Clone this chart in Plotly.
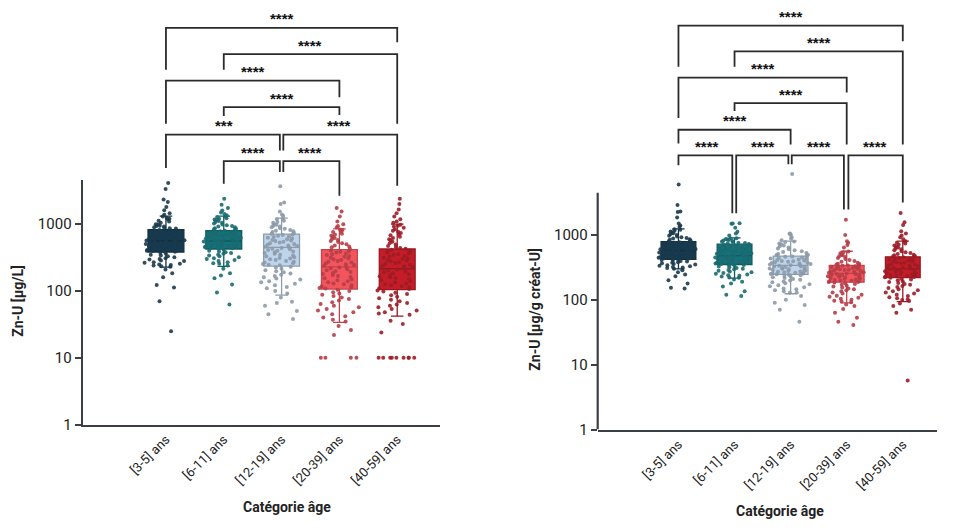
import plotly.graph_objects as go

categories = ["[3-5] ans", "[6-11] ans", "[12-19] ans", "[20-39] ans", "[40-59] ans"]

# ---------- Left panel: Zn-U [µg/L] ----------
L_q1 = [383, 425, 236, 107, 105]
L_med = [560, 560, 450, 229, 215]
L_q3 = [830, 800, 711, 415, 425]
L_lo = [228, 233, 87, 34, 42]
L_hi = [1320, 1320, 1230, 850, 1000]

L_pts_0 = [4130, 3360, 2340, 2150, 1800, 1620, 1450, 1380,
           1250, 1180, 1100, 1050, 990, 950, 920, 880, 860,
           820, 790, 760, 740, 710, 690, 670, 650, 630, 610, 600, 585, 570, 555, 540, 525,
           510, 495, 480, 465, 450, 435, 420, 405, 395, 385,
           370, 350, 330, 310, 295, 280, 265, 250, 240, 230,
           210, 185, 160, 123, 113, 70, 25,
           800, 775, 750, 725, 700, 680, 660, 640, 620, 595, 575, 565, 548, 532, 518, 503,
           488, 472, 458, 443, 428, 412, 400, 390, 1300, 1200, 1120, 1000, 940, 900, 870,
           360, 340, 320, 300, 285, 270, 255, 245, 235]
L_pts_1 = [2400, 1950, 1740, 1600, 1500, 1420, 1360,
           1280, 1200, 1150, 1080, 1020, 960, 920, 870, 840,
           795, 770, 745, 720, 700, 680, 660, 640, 620, 605, 590, 575, 560, 548, 535, 520,
           505, 490, 475, 462, 450, 440, 430,
           410, 390, 370, 350, 330, 310, 290, 270, 255, 240,
           215, 185, 170, 155, 125, 95, 63,
           785, 760, 735, 710, 690, 670, 650, 630, 612, 597, 582, 567, 553, 541, 528, 512,
           497, 482, 468, 456, 445, 435, 1300, 1230, 1170, 1110, 1050, 990, 940, 900, 855,
           820, 400, 380, 360, 340, 320, 300, 280, 260]
L_pts_2 = [3700, 2100, 2000, 1550, 1400, 1320,
           1200, 1120, 1050, 980, 920, 870, 820, 780, 740,
           700, 670, 640, 610, 580, 560, 530, 505, 480, 460, 440, 420, 400, 380, 360, 340,
           320, 305, 290, 275, 260, 248,
           225, 205, 190, 175, 160, 148, 135, 122, 110, 100, 92,
           80, 69, 66, 60, 50, 45, 38,
           690, 655, 625, 595, 570, 545, 518, 492, 470, 450, 430, 410, 390, 370, 350, 330,
           312, 298, 282, 268, 254, 242, 1180, 1080, 1000, 950, 900, 850, 800, 760, 720,
           230, 215, 198, 182, 168, 154, 140, 128, 115]
L_pts_3 = [1740, 1550, 1300, 1100, 1000, 940, 900,
           820, 760, 700, 650, 600, 560, 520, 480, 450,
           405, 385, 365, 345, 325, 305, 290, 275, 260, 245, 230, 218, 205, 192, 180, 168,
           155, 145, 135, 126, 118, 111,
           100, 92, 84, 76, 68, 60, 54, 48, 42, 37,
           30, 26, 22, 10, 10, 10, 10,
           395, 375, 355, 335, 315, 298, 282, 268, 252, 238, 224, 211, 198, 186, 174, 162,
           150, 140, 130, 122, 114, 109, 830, 780, 720, 670, 620, 580, 540, 500, 465, 430,
           104, 96, 88, 80, 72, 64, 57, 51, 45, 40, 35]
L_pts_4 = [2400, 2000, 1650, 1450, 1300, 1180, 1100, 1050,
           950, 880, 800, 740, 680, 620, 570, 520, 470, 440,
           415, 395, 375, 355, 335, 315, 300, 285, 270, 255, 240, 228, 215, 203, 190, 178,
           166, 155, 145, 135, 126, 118, 110,
           98, 90, 82, 74, 66, 60, 54, 48, 44,
           36, 32, 24, 10, 10, 10, 10, 10, 10, 10, 10, 10,
           405, 385, 365, 345, 325, 308, 292, 278, 262, 248, 234, 221, 209, 196, 184, 172,
           160, 150, 140, 130, 122, 114, 107, 980, 920, 840, 770, 710, 650, 595, 545, 495,
           455, 430, 102, 94, 86, 78, 70, 63, 57, 51, 46]
L_points = [L_pts_0, L_pts_1, L_pts_2, L_pts_3, L_pts_4]

# ---------- Right panel: Zn-U [µg/g créat-U] ----------
R_q1 = [421, 350, 246, 187, 220]
R_med = [575, 480, 340, 255, 300]
R_q3 = [789, 720, 470, 340, 460]
R_lo = [300, 216, 124, 90, 94]
R_hi = [1240, 900, 800, 560, 805]

R_pts_0 = [6000, 2900, 2300, 2250, 1860, 1500, 1400, 1320,
           1200, 1130, 1060, 1000, 950, 900, 860, 820,
           780, 755, 730, 710, 690, 670, 650, 630, 615, 600, 585, 570, 556, 542, 528, 514,
           500, 487, 474, 462, 450, 438, 428,
           410, 395, 380, 365, 350, 335, 320, 308,
           285, 265, 245, 230, 200, 178, 154, 150,
           770, 745, 720, 700, 680, 660, 640, 622, 607, 592, 577, 563, 549, 535, 521, 507,
           493, 480, 468, 456, 444, 433, 424, 1220, 1160, 1090, 1030, 975, 925, 880, 840,
           800, 418, 400, 388, 372, 358, 342, 328, 314, 302]
R_pts_1 = [1510, 1500, 1490, 1290, 1120, 1050, 980,
           880, 850, 820, 790, 760, 740,
           710, 690, 670, 650, 630, 610, 590, 570, 550, 535, 520, 505, 490, 475, 462, 450,
           437, 424, 410, 398, 386, 374, 362, 355,
           340, 325, 310, 295, 280, 266, 252, 240, 228, 220,
           205, 190, 178, 160, 135, 120, 115,
           700, 680, 660, 640, 620, 600, 580, 560, 543, 527, 512, 497, 482, 468, 456, 443,
           430, 417, 404, 392, 380, 368, 358, 890, 865, 835, 805, 775, 750, 725,
           345, 332, 318, 302, 288, 273, 259, 246, 234, 218]
R_pts_2 = [8700, 1050, 1040, 1000, 920, 870, 830,
           780, 720, 670, 620, 580, 545, 510, 490,
           465, 450, 435, 420, 405, 392, 380, 368, 356, 345, 335, 325, 315, 305, 296, 287,
           278, 270, 262, 255, 250,
           240, 228, 216, 204, 192, 180, 168, 156, 145, 135, 128,
           115, 100, 90, 83, 70, 46,
           460, 442, 428, 412, 398, 386, 374, 362, 350, 340, 330, 320, 310, 300, 291, 282,
           274, 266, 258, 252, 248, 790, 740, 690, 640, 600, 560, 525, 495, 475,
           244, 234, 222, 210, 198, 186, 174, 162, 150, 140, 130]
R_pts_3 = [1720, 1000, 800, 760, 700, 640,
           540, 500, 470, 440, 410, 385, 360, 350,
           335, 325, 315, 305, 296, 287, 278, 270, 262, 255, 248, 241, 234, 227, 220, 213,
           206, 199, 193, 189,
           180, 170, 160, 150, 140, 130, 120, 112, 104, 97, 92,
           85, 80, 72, 63, 53, 46, 41,
           338, 330, 320, 310, 300, 291, 282, 274, 266, 258, 251, 244, 237, 230, 223, 216,
           209, 202, 196, 191, 188, 555, 520, 485, 455, 425, 398, 372, 355, 345,
           185, 175, 165, 155, 145, 135, 125, 116, 108, 100, 94]
R_pts_4 = [2180, 1570, 1420, 1140, 1050, 980, 920, 860,
           790, 740, 690, 640, 600, 560, 525, 495, 475,
           455, 440, 425, 410, 395, 380, 365, 350, 338, 326, 314, 302, 291, 281, 271, 262,
           253, 245, 237, 230, 224,
           212, 200, 188, 176, 164, 152, 140, 130, 120, 110, 102, 96,
           88, 80, 70, 63, 5.7,
           450, 432, 418, 402, 388, 372, 358, 344, 332, 320, 308, 296, 286, 276, 266, 257,
           249, 241, 233, 227, 222, 800, 760, 715, 665, 620, 580, 540, 510, 485, 465,
           218, 206, 194, 182, 170, 158, 146, 135, 125, 115, 106, 99]
R_points = [R_pts_0, R_pts_1, R_pts_2, R_pts_3, R_pts_4]

# significance comparisons (category index pairs) and labels
L_pairs = [(0, 4), (1, 4), (0, 3), (1, 3), (0, 2), (2, 4), (1, 2), (2, 3)]
L_stars = ["****", "****", "****", "****", "***", "****", "****", "****"]
R_pairs = [(0, 4), (1, 4), (0, 3), (1, 3), (0, 2), (0, 1), (1, 2), (2, 3), (3, 4)]
R_stars = ["****"] * 9

# ---------- styling ----------
box_fill = ["#143a50", "#16727a", "#bcd5ec", "#f2555b", "#c51d27"]
box_line = ["#12303f", "#0f5a60", "#8e9dac", "#c7434b", "#961820"]
pt_color = ["#1b3a4c", "#1a6a70", "#8d9aa8", "#b63d47", "#9c1c26"]

W, H = 975, 531
fig = go.Figure()


def add_panel(xa, ya, q1, med, q3, lo, hi, points):
    for i, cat in enumerate(categories):
        fig.add_trace(go.Box(
            x=[cat], q1=[q1[i]], median=[med[i]], q3=[q3[i]],
            lowerfence=[lo[i]], upperfence=[hi[i]],
            width=0.62, whiskerwidth=0.35,
            fillcolor=box_fill[i], line=dict(color=box_line[i], width=1.3),
            xaxis=xa, yaxis=ya, showlegend=False, hoverinfo="skip"))
    for i, cat in enumerate(categories):
        fig.add_trace(go.Box(
            x=[cat] * len(points[i]), y=points[i],
            boxpoints="all", jitter=1, pointpos=0, width=0.76,
            fillcolor="rgba(0,0,0,0)", line=dict(color="rgba(0,0,0,0)", width=0),
            marker=dict(color=pt_color[i], size=4, opacity=0.9),
            xaxis=xa, yaxis=ya, showlegend=False))


add_panel("x", "y", L_q1, L_med, L_q3, L_lo, L_hi, L_points)
add_panel("x2", "y2", R_q1, R_med, R_q3, R_lo, R_hi, R_points)


def py(px):
    return 1 - px / H


axcol = "#3b4046"
tickfont = dict(family="Roboto", size=15, color="#222")
xtickfont = dict(family="Roboto", size=13, color="#222")

common_y = dict(type="log", tickvals=[1, 10, 100, 1000], ticktext=["1", "10", "100", "1000"],
                ticks="outside", ticklen=6, tickwidth=2, tickcolor=axcol,
                showgrid=False, zeroline=False, tickfont=tickfont)
common_x = dict(type="category", categoryorder="array", categoryarray=categories,
                showline=True, linecolor=axcol, linewidth=2.2, ticks="",
                tickangle=-45, showgrid=False, zeroline=False, tickfont=xtickfont)

fig.update_layout(
    width=W, height=H, margin=dict(l=0, r=0, t=0, b=0),
    paper_bgcolor="white", plot_bgcolor="white",
    boxmode="overlay",
    xaxis=dict(domain=[82.7 / W, 440 / W], range=[-1.44, 4.74], anchor="y", **common_x),
    yaxis=dict(domain=[py(432), py(183)], range=[0, 3.662], anchor="x",
               showline=True, linecolor=axcol, linewidth=2.2, **common_y),
    xaxis2=dict(domain=[597.7 / W, 937 / W], range=[-1.44, 4.61], anchor="y2", **common_x),
    yaxis2=dict(domain=[py(437), py(171)], range=[0, 4.03], anchor="x2",
                showline=False, **common_y),
)

shapes = []
# right y-axis line (stops below highest outliers)
shapes.append(dict(type="line", xref="x2 domain", yref="y2", x0=0, x1=0, y0=1, y1=10 ** 3.65,
                   line=dict(color=axcol, width=2.2)))

ann = []
brk = dict(color="#2b2b2b", width=1.8)
starfont = dict(family="Liberation Sans", size=15, color="#111", weight="bold")


def add_brackets(xr, pairs, labels, levels, legs, offs):
    for (a, b), lab, yb, (la, lb), (oa, ob) in zip(pairs, labels, levels, legs, offs):
        xa_, xb_ = a + oa, b + ob
        shapes.append(dict(type="path", xref=xr, yref="paper",
                           path=f"M {xa_},{py(la)} L {xa_},{py(yb)} L {xb_},{py(yb)} L {xb_},{py(lb)}",
                           line=brk))
        ann.append(dict(x=(a + b) / 2, y=py(yb - 9), xref=xr, yref="paper", text=lab,
                        showarrow=False, font=starfont, xanchor="center", yanchor="middle"))


add_brackets("x", L_pairs, L_stars,
             [28.3, 55, 82, 109, 137, 137, 164, 164],
             [(71, 43), (71, 126), (126, 99), (118, 117), (171, 153), (153, 189), (187, 175), (175, 199)],
             [(0, 0), (0, 0), (0, 0), (0, 0), (0, -0.03), (0.03, 0), (0, -0.03), (0.03, 0)])
add_brackets("x2", R_pairs, R_stars,
             [26, 52.3, 79, 105, 132, 158, 158, 158, 158],
             [(68, 42), (68, 147), (120, 94), (113, 147), (146, 147), (168, 217), (217, 167), (167, 213), (213, 206)],
             [(0, 0), (0, 0), (0, 0), (0, 0), (0, 0), (0, -0.04), (0.03, -0.04), (0.02, -0.05), (0.03, 0)])

titlefont = dict(family="Roboto", size=14, color="#222")
ann.append(dict(x=18 / W, y=py(306), xref="paper", yref="paper", text="<b>Zn-U [µg/L]</b>",
                textangle=-90, showarrow=False, font=titlefont, xanchor="center", yanchor="middle"))
ann.append(dict(x=535 / W, y=py(315), xref="paper", yref="paper", text="<b>Zn-U [µg/g créat-U]</b>",
                textangle=-90, showarrow=False, font=titlefont, xanchor="center", yanchor="middle"))
ann.append(dict(x=287 / W, y=py(516), xref="paper", yref="paper", text="<b>Catégorie âge</b>",
                showarrow=False, font=titlefont, xanchor="center", yanchor="middle"))
ann.append(dict(x=780 / W, y=py(520), xref="paper", yref="paper", text="<b>Catégorie âge</b>",
                showarrow=False, font=titlefont, xanchor="center", yanchor="middle"))

fig.update_layout(shapes=shapes, annotations=ann)
fig.write_html("out.html")
